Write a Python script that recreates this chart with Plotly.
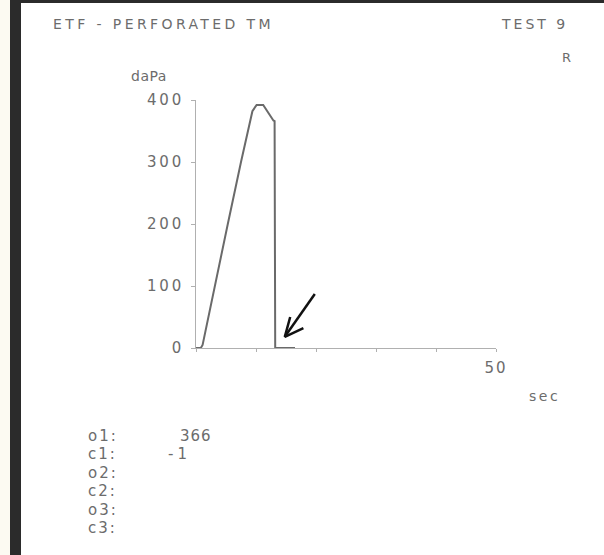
import plotly.graph_objects as go

# ---- data ----
time_s = [0, 0.8, 1.1, 3.1, 5.3, 7.5, 9.4, 10.1, 11.2, 12.9, 13.1, 13.2, 16.5]
pressure_dapa = [0, 0, 5, 100, 200, 300, 382, 392, 392, 367, 366, 0, 0]

arrow_x = [19.8, 14.8, None, 17.9, 14.8, 15.7]
arrow_y = [87, 18, None, 32, 18, 50]

x_tick_vals = [0, 10, 20, 30, 40, 50]
x_tick_text = ["", "", "", "", "", "50"]
y_tick_vals = [0, 100, 200, 300, 400]

title_left = "ETF - PERFORATED TM"
title_right = "TEST 9"
ear_label = "R"
y_unit = "daPa"
x_unit = "sec"
result_labels = ["o1:", "c1:", "o2:", "c2:", "o3:", "c3:"]
result_values = ["366", "-1", "", "", "", ""]

# ---- layout geometry (pixels) ----
W, H = 604, 555
L, R, T, B = 196, 108, 100, 207
PW, PH = W - L - R, H - T - B

def px(x):
    return (x - L) / PW

def py(y):
    return (H - B - y) / PH

def spaced(s, ls):
    return f'<span style="letter-spacing:{ls}px">{s}</span>' if s else s

TXT = "#6c6c6c"
FONT = "DejaVu Sans"

fig = go.Figure()
fig.add_trace(go.Scatter(
    x=time_s, y=pressure_dapa, mode="lines",
    line=dict(color="#6a6a6a", width=2), hoverinfo="skip", showlegend=False,
))
fig.add_trace(go.Scatter(
    x=arrow_x, y=arrow_y, mode="lines",
    line=dict(color="#111111", width=2.5), hoverinfo="skip", showlegend=False,
))

ann = []
def text(s, x, y, xanchor="left", size=14, ls=0, color=TXT):
    ann.append(dict(text=spaced(s, ls), x=px(x), y=py(y), xref="paper", yref="paper",
                    xanchor=xanchor, yanchor="middle", showarrow=False,
                    font=dict(family=FONT, size=size, color=color)))

text(title_left, 51, 24, size=14, ls=3.4)
text(title_right, 570, 24, xanchor="right", size=14, ls=3.0)
text(ear_label, 573, 58, xanchor="right", size=13)
text(y_unit, 129, 76, size=14, ls=0.5)
text(x_unit, 527, 396, size=14, ls=2.5)
for i, (lab, val) in enumerate(zip(result_labels, result_values)):
    yy = 436 + i * 18.4
    text(lab, 86, yy, size=15, ls=2)
    if val:
        if val.startswith("-"):
            text(val, 166, yy, size=15, ls=4)
        else:
            text(val, 178, yy, size=15, ls=1)

shapes = [
    dict(type="rect", xref="paper", yref="paper", x0=px(0), x1=px(10), y0=py(H), y1=py(0),
         fillcolor="#fcfaf2", line=dict(width=0), layer="below"),
    dict(type="rect", xref="paper", yref="paper", x0=px(10), x1=px(21), y0=py(H), y1=py(0),
         fillcolor="#2b2b2b", line=dict(width=0), layer="above"),
    dict(type="rect", xref="paper", yref="paper", x0=px(10), x1=px(W), y0=py(3), y1=py(0),
         fillcolor="#2b2b2b", line=dict(width=0), layer="above"),
]

fig.update_layout(
    width=W, height=H,
    margin=dict(l=L, r=R, t=T, b=B, pad=0),
    paper_bgcolor="white", plot_bgcolor="white",
    showlegend=False,
    annotations=ann, shapes=shapes,
    xaxis=dict(range=[0, 50], tickvals=x_tick_vals,
               ticktext=[spaced(t, 2) for t in x_tick_text],
               showgrid=False, zeroline=False, showline=True, linecolor="#b0b0b0",
               linewidth=1, ticks="outside", ticklen=3, tickcolor="#b0b0b0",
               ticklabelstandoff=3,
               tickfont=dict(family=FONT, size=15, color=TXT), fixedrange=True),
    yaxis=dict(range=[0, 400], tickvals=y_tick_vals,
               ticktext=[spaced(str(v), 2.8) for v in y_tick_vals],
               showgrid=False, zeroline=False, showline=True, linecolor="#b0b0b0",
               linewidth=1, ticks="outside", ticklen=4, tickcolor="#b0b0b0",
               ticklabelstandoff=4,
               tickfont=dict(family=FONT, size=15, color=TXT), fixedrange=True),
)

fig.write_html("out.html")
